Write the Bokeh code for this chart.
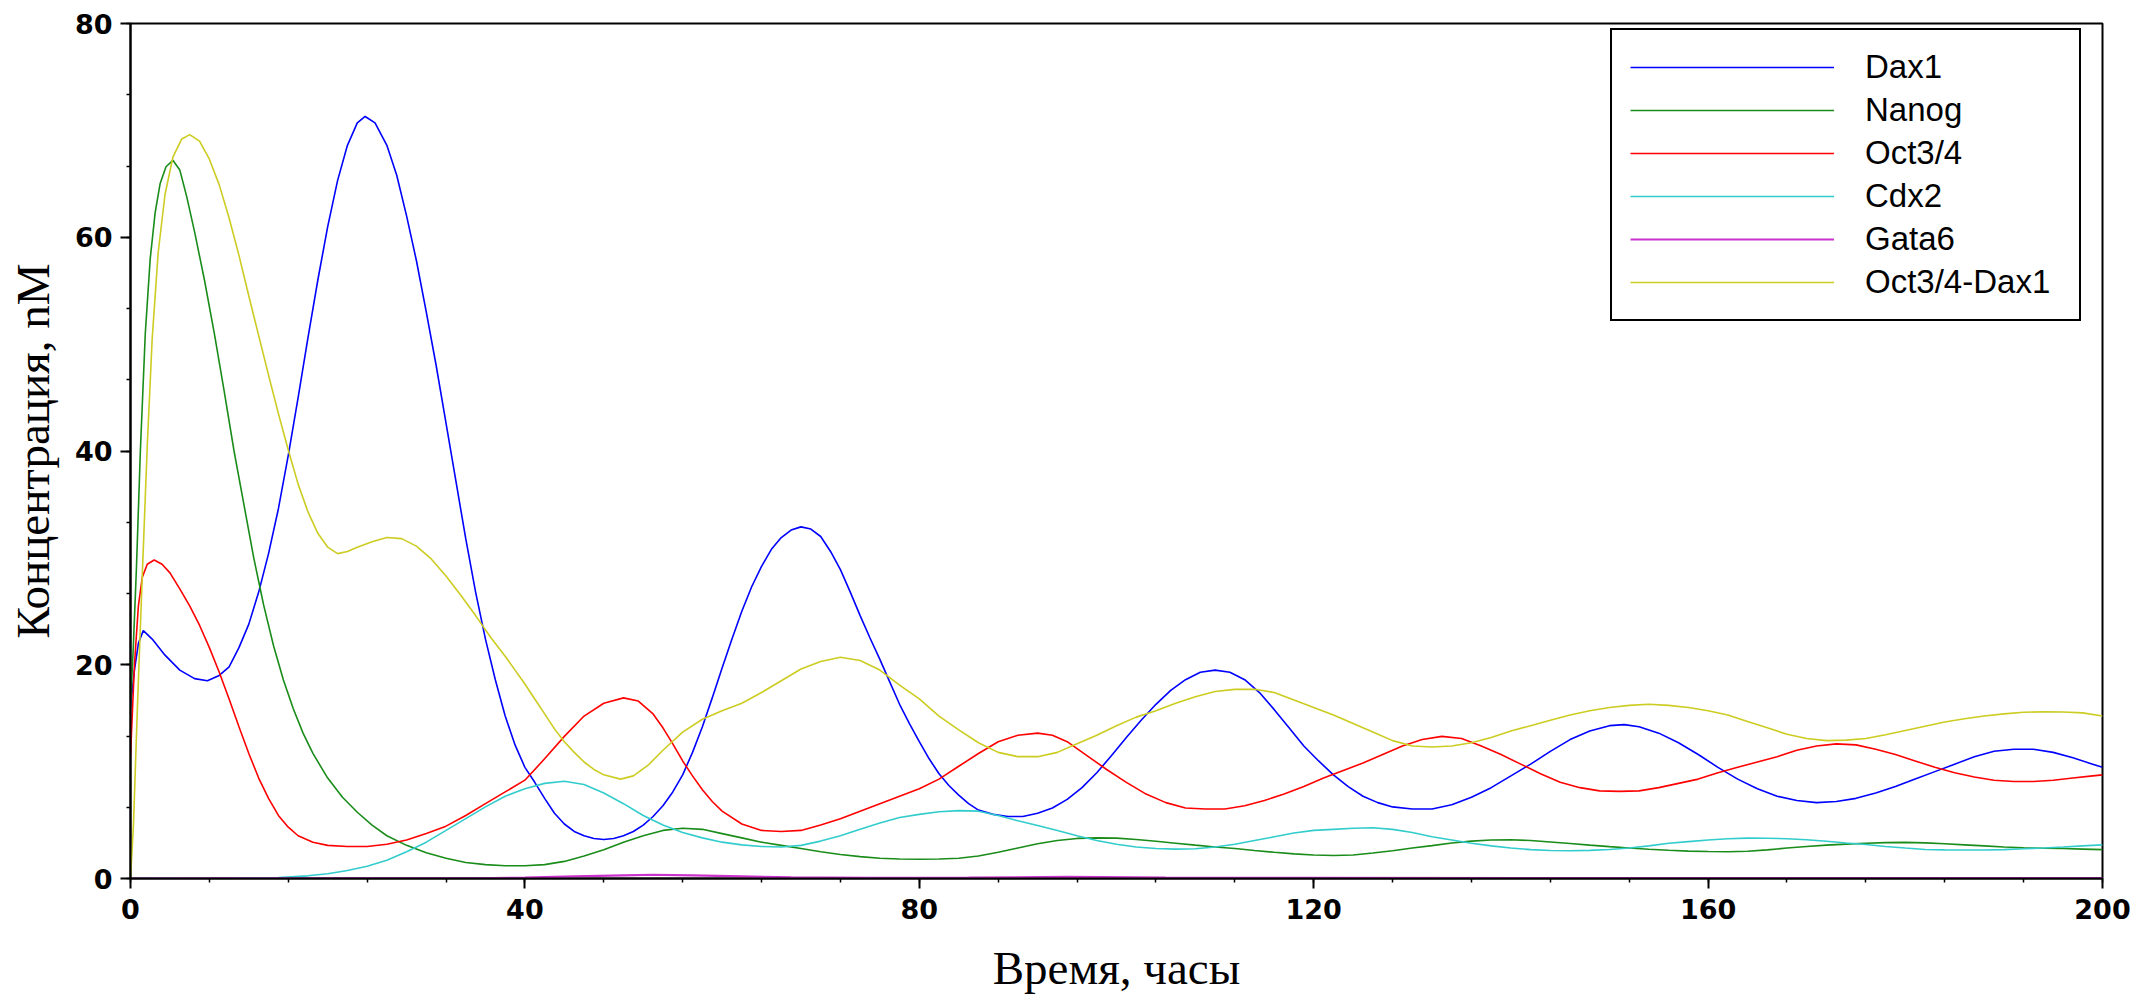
from bokeh.plotting import figure
from bokeh.models import Range1d, SingleIntervalTicker, Legend, LegendItem
from bokeh.embed import file_html
from bokeh.resources import INLINE

# ---- data (time in hours, concentration in nM) ----
dax1_t = [0, 0.4, 0.8, 1.3, 2.2, 3.5, 5, 6.5, 7.8, 9, 10, 11, 12, 13, 14, 15, 16, 17, 18, 19,
          20, 21, 22, 23, 23.8, 24.8, 26, 27, 28, 29, 30, 31, 32, 33, 34, 35, 36, 37, 38, 39,
          40, 41, 42, 43, 44, 45, 46, 47, 48, 49, 50, 51, 52, 53, 54, 55, 56, 57, 58, 59,
          60, 61, 62, 63, 64, 65, 66, 67, 68, 69, 70, 71, 72, 73, 74, 75, 76, 77, 78, 79,
          80, 81, 82, 83, 84, 85, 86, 87.5, 89, 90.5, 92, 93.5, 95, 96.5, 98, 99.5, 101, 102.5,
          104, 105.5, 107, 108.5, 110, 111.5, 113, 114.5, 116, 117.5, 119, 120.5, 122, 123.5,
          125, 126.5, 128, 130, 132, 134, 136, 138, 140, 142, 144, 146, 148, 150, 151.5, 153,
          155, 157, 159, 161, 163, 165, 167, 169, 171, 173, 175, 177, 179, 181, 183, 185, 187,
          189, 191, 193, 195, 197, 199, 200]
dax1_v = [16, 19.5, 22, 23.2, 22.4, 20.9, 19.5, 18.7, 18.5, 19.0, 19.8, 21.6, 23.8, 26.8, 30.4,
          34.6, 39.6, 45.0, 50.6, 56.0, 61.0, 65.3, 68.6, 70.7, 71.3, 70.7, 68.6, 65.8, 62.0,
          57.8, 53.0, 48.0, 42.6, 37.2, 31.8, 26.8, 22.4, 18.6, 15.2, 12.5, 10.4, 9.0, 7.5, 6.1,
          5.1, 4.4, 4.0, 3.75, 3.65, 3.75, 4.0, 4.4, 5.0, 5.8, 6.8, 8.1, 9.7, 11.8, 14.2, 16.9,
          19.7, 22.4, 25.0, 27.3, 29.2, 30.8, 31.9, 32.6, 32.9, 32.7, 32.0, 30.6, 28.9, 26.8,
          24.6, 22.5, 20.5, 18.4, 16.3, 14.5, 12.8, 11.2, 9.8, 8.7, 7.8, 7.0, 6.4, 6.0, 5.8,
          5.8, 6.1, 6.6, 7.4, 8.5, 9.9, 11.5, 13.2, 14.8, 16.3, 17.6, 18.6, 19.3, 19.5, 19.3,
          18.6, 17.4, 15.8, 14.1, 12.4, 11.0, 9.7, 8.6, 7.7, 7.1, 6.7, 6.5, 6.5, 6.9, 7.6, 8.5,
          9.6, 10.7, 11.9, 13.0, 13.8, 14.3, 14.4, 14.2, 13.6, 12.7, 11.6, 10.4, 9.3, 8.4, 7.7,
          7.3, 7.1, 7.2, 7.5, 8.0, 8.6, 9.3, 10.0, 10.7, 11.4, 11.9, 12.1, 12.1, 11.8, 11.3,
          10.7, 10.4]

nanog_t = [0, 0.3, 0.6, 1.0, 1.5, 2.0, 2.5, 3.0, 3.6, 4.3, 5.0, 5.7, 6.5, 7.5, 8.5, 9.5, 10.5,
           11.5, 12.5, 13.5, 14.5, 15.5, 16.5, 17.5, 18.5, 20, 21.5, 23, 24.5, 26, 28, 30, 32,
           34, 36, 38, 40, 42, 44, 46, 48, 50, 52, 54, 56, 58, 60, 62, 64, 66, 68, 70, 72, 74,
           76, 78, 80, 82, 84, 86, 88, 90, 92, 94, 96, 98, 100, 102, 104, 106, 108, 110, 112,
           114, 116, 118, 120, 122, 124, 126, 128, 130, 132, 134, 136, 138, 140, 142, 144, 146,
           148, 150, 152, 154, 156, 158, 160, 162, 164, 166, 168, 170, 172, 174, 176, 178, 180,
           182, 184, 186, 188, 190, 192, 194, 196, 198, 200]
nanog_v = [16, 22, 29, 40, 51, 58, 62.3, 65, 66.6, 67.2, 66.3, 63.8, 60.5, 56.0, 51.0, 45.6,
           40.0, 35.0, 30.0, 25.6, 21.8, 18.6, 15.9, 13.6, 11.7, 9.4, 7.6, 6.2, 5.0, 4.0, 3.1,
           2.4, 1.9, 1.5, 1.3, 1.2, 1.2, 1.3, 1.6, 2.1, 2.7, 3.4, 4.0, 4.5, 4.7, 4.6, 4.2, 3.8,
           3.4, 3.1, 2.8, 2.5, 2.25, 2.05, 1.9, 1.82, 1.8, 1.82, 1.9, 2.1, 2.45, 2.85, 3.25,
           3.55, 3.75, 3.8, 3.78, 3.65, 3.48, 3.3, 3.12, 2.95, 2.8, 2.62, 2.45, 2.3, 2.2, 2.15,
           2.2, 2.38, 2.6, 2.85, 3.08, 3.32, 3.5, 3.6, 3.63, 3.55, 3.42, 3.28, 3.12, 2.98, 2.85,
           2.74, 2.64, 2.56, 2.52, 2.5, 2.55, 2.68, 2.85, 3.0, 3.12, 3.22, 3.3, 3.36, 3.38, 3.33,
           3.25, 3.15, 3.05, 2.95, 2.88, 2.83, 2.8, 2.75, 2.7]

oct4_t = [0, 0.4, 0.8, 1.2, 1.7, 2.4, 3.2, 4, 5, 6, 7, 8, 9, 10, 11, 12, 13, 14, 15, 16, 17,
          18.5, 20, 22, 24, 26, 28, 30, 32, 34, 36, 38, 40, 42, 44, 46, 48, 50, 51.5, 53, 54,
          55, 56, 57, 58, 59, 60, 62, 64, 66, 68, 70, 72, 74, 76, 78, 80, 82, 84, 86, 88, 90,
          92, 93.5, 95, 97, 99, 101, 103, 105, 107, 109, 111, 113, 115, 117, 119, 121, 123,
          125, 127, 129, 131, 133, 135, 137, 139, 141, 143, 145, 147, 149, 151, 153, 155, 157,
          159, 161, 163, 165, 167, 169, 171, 173, 175, 177, 179, 181, 183, 185, 187, 189, 191,
          193, 195, 197, 199, 200]
oct4_v = [11.5, 20, 25.5, 28.2, 29.4, 29.8, 29.4, 28.6, 27.1, 25.5, 23.7, 21.6, 19.3, 16.8,
          14.2, 11.7, 9.4, 7.5, 5.9, 4.8, 4.0, 3.4, 3.1, 3.0, 3.0, 3.2, 3.6, 4.2, 4.9, 5.9, 7.0,
          8.1, 9.2, 11.2, 13.3, 15.2, 16.4, 16.9, 16.6, 15.4, 14.1, 12.6, 11.0, 9.6, 8.3, 7.2,
          6.3, 5.1, 4.5, 4.4, 4.5, 5.0, 5.6, 6.3, 7.0, 7.7, 8.4, 9.3, 10.5, 11.7, 12.8, 13.4,
          13.6, 13.4, 12.8, 11.5, 10.2, 9.0, 7.9, 7.1, 6.6, 6.5, 6.5, 6.8, 7.3, 7.9, 8.6, 9.4,
          10.1, 10.8, 11.6, 12.4, 13.0, 13.3, 13.1, 12.4, 11.6, 10.7, 9.8, 9.0, 8.5, 8.2, 8.15,
          8.2, 8.5, 8.9, 9.3, 9.9, 10.4, 10.9, 11.4, 12.0, 12.4, 12.6, 12.5, 12.1, 11.6, 11.0,
          10.4, 9.9, 9.5, 9.2, 9.07, 9.07, 9.2, 9.4, 9.6, 9.7]

cdx2_t = [0, 5, 10, 15, 18, 20, 22, 24, 26, 28, 30, 32, 34, 36, 38, 40, 42, 44, 46, 48, 50,
          52, 54, 56, 58, 60, 62, 64, 66, 68, 70, 72, 74, 76, 78, 80, 82, 84, 86, 88, 90, 92,
          94, 96, 98, 100, 102, 104, 106, 108, 110, 112, 114, 116, 118, 120, 122, 124, 126,
          128, 130, 132, 134, 136, 138, 140, 142, 144, 146, 148, 150, 152, 154, 156, 158, 160,
          162, 164, 166, 168, 170, 172, 174, 176, 178, 180, 182, 184, 186, 188, 190, 192, 194,
          196, 198, 200]
cdx2_v = [0, 0, 0.02, 0.1, 0.25, 0.45, 0.75, 1.15, 1.7, 2.5, 3.4, 4.5, 5.6, 6.7, 7.7, 8.4, 8.9,
          9.1, 8.8, 8.0, 7.0, 5.9, 5.0, 4.3, 3.8, 3.4, 3.15, 3.0, 2.95, 3.1, 3.5, 4.0, 4.6, 5.2,
          5.7, 6.0, 6.25, 6.35, 6.3, 5.9, 5.4, 4.95, 4.5, 4.0, 3.55, 3.2, 2.95, 2.8, 2.75, 2.78,
          2.95, 3.2, 3.55, 3.9, 4.25, 4.5, 4.6, 4.7, 4.75, 4.6, 4.3, 3.9, 3.6, 3.3, 3.05, 2.85,
          2.7, 2.62, 2.6, 2.63, 2.72, 2.85, 3.05, 3.3, 3.45, 3.6, 3.72, 3.78, 3.77, 3.72, 3.62,
          3.48, 3.32, 3.18, 3.0, 2.85, 2.72, 2.68, 2.67, 2.67, 2.7, 2.78, 2.86, 2.95, 3.05, 3.15]

gata6_t = [0, 35, 40, 45, 50, 53, 57, 62, 67, 75, 85, 95, 105, 120, 200]
gata6_v = [0, 0.02, 0.08, 0.2, 0.3, 0.35, 0.3, 0.2, 0.1, 0.05, 0.08, 0.15, 0.08, 0.05, 0.03]

cplx_t = [0, 0.3, 0.7, 1.2, 1.7, 2.2, 2.8, 3.5, 4.3, 5.2, 6.0, 7, 8, 9, 10, 11, 12, 13, 14, 15,
          16, 17, 18, 19, 20, 21, 22, 23, 24.5, 26, 27.5, 29, 30.5, 32, 33.5, 35, 36.5, 38, 39,
          40, 41, 42, 43, 44, 45, 46, 47, 48, 49.7, 51, 52.5, 54, 56, 58, 60, 62, 64, 66, 68,
          70, 72, 74, 76, 78, 80, 82, 84, 86, 88, 90, 92, 94, 96, 98, 100, 102, 104, 106, 108,
          110, 112, 114, 116, 118, 120, 122, 124, 126, 128, 130, 132, 134, 136, 138, 140, 142,
          144, 146, 148, 150, 152, 154, 156, 158, 160, 162, 164, 166, 168, 170, 172, 174, 176,
          178, 180, 182, 184, 186, 188, 190, 192, 194, 196, 198, 200]
cplx_v = [0, 5, 16, 28.5, 40.5, 50.5, 58.5, 64, 67.5, 69.2, 69.6, 69.0, 67.3, 64.9, 61.8, 58.3,
          54.5, 50.8, 47.1, 43.5, 40.1, 36.9, 34.3, 32.3, 31.0, 30.4, 30.6, 31.0, 31.5, 31.9,
          31.8, 31.1, 29.9, 28.3, 26.5, 24.6, 22.6, 20.8, 19.5, 18.2, 16.8, 15.4, 14.0, 12.8,
          11.8, 10.9, 10.2, 9.7, 9.3, 9.6, 10.6, 12.0, 13.7, 14.9, 15.7, 16.4, 17.4, 18.5, 19.6,
          20.3, 20.7, 20.4, 19.5, 18.1, 16.8, 15.2, 13.9, 12.7, 11.8, 11.4, 11.4, 11.8, 12.6,
          13.4, 14.3, 15.1, 15.7, 16.4, 17.0, 17.5, 17.7, 17.7, 17.4, 16.7, 16.0, 15.3, 14.5,
          13.7, 12.9, 12.4, 12.3, 12.4, 12.7, 13.2, 13.8, 14.3, 14.8, 15.3, 15.7, 16.0, 16.2,
          16.3, 16.2, 16.0, 15.7, 15.3, 14.7, 14.1, 13.5, 13.1, 12.9, 12.95, 13.1, 13.45, 13.85,
          14.25, 14.65, 14.95, 15.2, 15.4, 15.55, 15.6, 15.58, 15.5, 15.2]

names = ["Dax1", "Nanog", "Oct3/4", "Cdx2", "Gata6", "Oct3/4-Dax1"]
colors = ["#0000ff", "#1a8c1a", "#ff0000", "#33cccc", "#cc33cc", "#cccc22"]
series = [(dax1_t, dax1_v), (nanog_t, nanog_v), (oct4_t, oct4_v),
          (cdx2_t, cdx2_v), (gata6_t, gata6_v), (cplx_t, cplx_v)]
x_ticks_interval = 40
y_ticks_interval = 20
x_title = "Время, часы"
y_title = "Концентрация, nM"

p = figure(width=2152, height=997, output_backend="svg", toolbar_location=None,
           x_range=Range1d(0, 200), y_range=Range1d(0, 80),
           min_border_left=130, min_border_right=50, min_border_top=23,
           min_border_bottom=119)
p.xgrid.visible = False
p.ygrid.visible = False
p.background_fill_color = "white"
p.border_fill_color = "white"
p.outline_line_color = "black"
p.outline_line_width = 2
p.outline_line_alpha = 1.0

p.xaxis.ticker = SingleIntervalTicker(interval=x_ticks_interval, num_minor_ticks=5)
p.yaxis.ticker = SingleIntervalTicker(interval=y_ticks_interval, num_minor_ticks=3)
for ax in (p.xaxis[0], p.yaxis[0]):
    ax.axis_line_color = "black"
    ax.axis_line_width = 2
    ax.major_tick_in = 0
    ax.major_tick_out = 10
    ax.minor_tick_in = 0
    ax.minor_tick_out = 4
    ax.major_tick_line_color = "black"
    ax.minor_tick_line_color = "black"
    ax.major_tick_line_width = 2
    ax.minor_tick_line_width = 1.5
    ax.major_label_text_font = "DejaVu Sans"
    ax.major_label_text_font_size = "27px"
    ax.major_label_text_font_style = "bold"
    ax.major_label_text_color = "black"
    ax.axis_label_text_font = "Liberation Serif"
    ax.axis_label_text_font_size = "47px"
    ax.axis_label_text_font_style = "normal"
    ax.axis_label_text_color = "black"

p.xaxis.axis_label = x_title
p.yaxis.axis_label = y_title
p.xaxis.major_label_standoff = 10
p.yaxis.major_label_standoff = 8
p.xaxis.axis_label_standoff = 20
p.yaxis.axis_label_standoff = 13

items = []
for name, col, (ts, vs) in zip(names, colors, series):
    lw = 2.2 if name == "Gata6" else 1.6
    r = p.line(ts, vs, line_color=col, line_width=lw)
    items.append(LegendItem(label=name, renderers=[r]))

legend = Legend(items=items, location=(1480, 557))
legend.border_line_color = "black"
legend.border_line_width = 2
legend.border_line_alpha = 1.0
legend.background_fill_color = "white"
legend.background_fill_alpha = 1.0
legend.glyph_width = 204
legend.glyph_height = 38
legend.label_height = 38
legend.label_width = 196
legend.label_standoff = 31
legend.label_text_font = "Liberation Sans"
legend.label_text_font_size = "33px"
legend.label_text_color = "black"
legend.padding = 18
legend.spacing = 5
legend.margin = 0
p.add_layout(legend)

open("out.html", "w").write(file_html(p, INLINE))
